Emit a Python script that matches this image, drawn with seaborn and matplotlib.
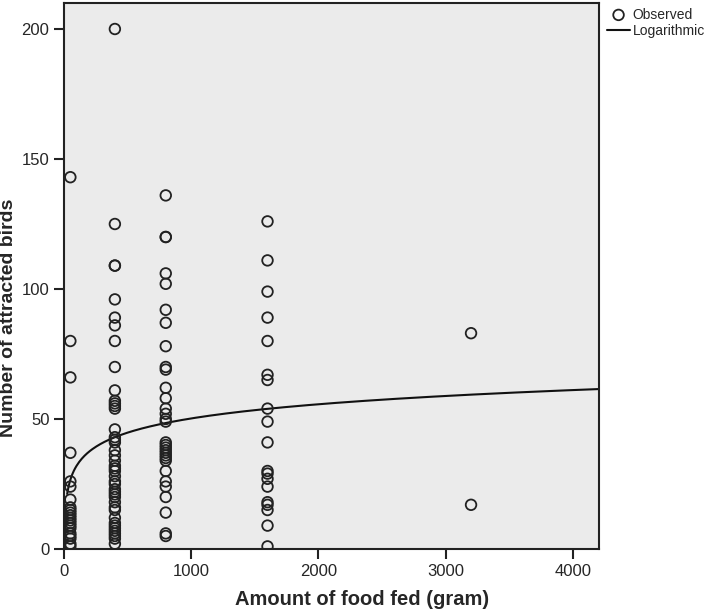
import numpy as np
import pandas as pd
import matplotlib
matplotlib.use("Agg")
import matplotlib.pyplot as plt
import seaborn as sns

# amount of food fed (gram) per observation group
food_levels = [50, 400, 800, 1600, 3200]

# number of attracted birds
birds_50 = [143, 80, 66, 37, 26, 24, 19, 16, 15, 14, 13, 12, 11, 10, 9, 8, 6, 5, 4, 2, 1]
birds_400 = [200, 125, 109, 109, 96, 89, 86, 80, 70, 61, 57, 56, 55, 54, 46, 43, 42,
             41, 38, 36, 34, 32, 31, 30, 28, 26, 25, 23, 22, 21, 20, 18, 16, 15, 12,
             10, 9, 8, 7, 6, 5, 4, 2]
birds_800 = [136, 120, 120, 106, 102, 92, 87, 78, 70, 69, 62, 58, 54, 52, 50, 49, 41,
             40, 39, 38, 37, 36, 35, 34, 30, 26, 24, 20, 14, 6, 5]
birds_1600 = [126, 111, 99, 89, 80, 67, 65, 54, 49, 41, 30, 29, 27, 24, 18, 17, 15, 9, 1]
birds_3200 = [83, 17]

# logarithmic fit shown in the figure: birds = intercept + slope * ln(food)
fit_intercept = -4.15
fit_slope = 7.87

groups = [birds_50, birds_400, birds_800, birds_1600, birds_3200]
df = pd.DataFrame({
    "food": np.concatenate([[f] * len(g) for f, g in zip(food_levels, groups)]),
    "birds": np.concatenate(groups),
})

x_fit = np.linspace(25, 4210, 400)
fit = pd.DataFrame({"food": x_fit, "birds": fit_intercept + fit_slope * np.log(x_fit)})

sns.set_style("ticks")
plt.rcParams["font.family"] = ["Liberation Sans", "DejaVu Sans"]

fig = plt.figure(figsize=(7.09, 6.12), dpi=100)
ax = fig.add_axes([64 / 709, 1 - 549 / 612, 535 / 709, 546 / 612])
ax.set_facecolor("#ebebeb")

sns.scatterplot(data=df, x="food", y="birds", ax=ax, marker="o", s=58,
                facecolor="none", edgecolor="#222222", linewidth=1.3,
                label="Observed", zorder=3)
sns.lineplot(data=fit, x="food", y="birds", ax=ax, color="#111111", lw=1.5,
             label="Logarithmic", zorder=2)

ax.set_xlim(0, 4206)
ax.set_ylim(0, 210)
ax.set_xticks([0, 1000, 2000, 3000, 4000])
ax.set_yticks([0, 50, 100, 150, 200])
ax.tick_params(direction="out", length=7, width=1.5, labelsize=12, color="#222222")
for sp in ax.spines.values():
    sp.set_linewidth(1.5)
    sp.set_color("#222222")

ax.set_xlabel("Amount of food fed (gram)", fontsize=14.5, fontweight="bold")
ax.set_ylabel("Number of attracted birds", fontsize=14, fontweight="bold")
ax.xaxis.set_label_coords(0.557, -0.075)
ax.yaxis.set_label_coords(-0.088, 0.424)

leg = ax.legend(loc="upper left", bbox_to_anchor=(0.995, 1.012), frameon=False,
                fontsize=10, handlelength=1.6, handletextpad=0.2,
                borderaxespad=0.4, labelspacing=0.2)

fig.savefig("out.png", dpi=100)
